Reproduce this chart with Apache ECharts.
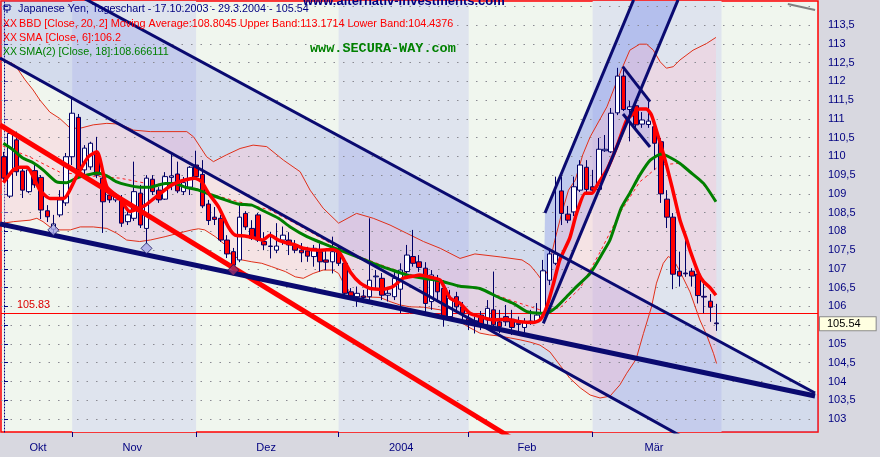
<!DOCTYPE html>
<html><head><meta charset="utf-8">
<script src="https://cdn.jsdelivr.net/npm/echarts@6.0.0/dist/echarts.min.js"></script>
<style>html,body{margin:0;padding:0;background:#d8d8e0}#c{width:880px;height:457px}</style>
</head><body><div id="c"></div><script>
// ---- daily candles 17.10.2003 .. 29.3.2004 (index 0..115) ----
const opens = [109.99,108.94,110.44,109.61,109.06,109.62,109.44,108.55,108.06,108.44,
108.76,109.99,111.04,109.64,109.72,110.08,109.42,108.97,108.84,108.84,
108.26,108.35,109.02,108.08,109.39,109.10,108.86,109.44,109.53,109.06,
109.18,109.77,109.52,108.73,108.38,108.35,107.77,107.46,107.24,108.48,
108.08,108.44,107.73,107.61,107.50,107.77,107.77,107.64,107.50,107.48,
107.33,107.46,107.24,107.19,107.55,107.15,106.39,106.26,106.28,106.26,
106.79,106.75,106.30,106.26,106.46,106.93,107.33,107.19,107.02,106.13,
106.70,106.48,105.73,106.26,105.99,105.68,105.57,105.77,105.64,105.91,
105.59,105.73,105.66,105.52,105.44,105.57,105.59,105.82,106.70,107.15,
109.08,108.46,108.52,109.10,109.71,109.19,109.12,110.15,110.12,111.16,
112.14,111.25,111.35,110.86,110.85,110.79,110.39,108.86,108.38,106.94,
106.89,106.94,106.86,106.27,106.14,105.56];
const closes = [109.42,110.61,109.59,109.10,109.64,109.24,108.57,108.39,108.20,108.84,
109.99,111.15,109.64,110.22,110.35,109.50,108.79,108.84,108.97,108.22,
108.44,109.06,108.17,109.42,109.06,108.84,109.46,109.48,109.08,109.30,
109.71,109.46,108.68,108.29,108.32,107.77,107.40,107.10,108.38,108.12,
107.82,107.77,107.64,107.60,107.61,107.90,107.64,107.50,107.43,107.34,
107.55,107.19,107.18,107.46,107.15,106.35,106.28,106.35,106.24,106.70,
106.81,106.30,106.35,106.75,106.97,107.37,107.15,107.04,106.08,106.84,
106.39,105.73,106.22,105.99,105.82,105.62,105.62,105.51,105.95,105.51,
105.46,105.59,105.44,105.55,105.57,105.61,105.77,106.95,107.40,107.40,
108.48,108.30,109.19,109.77,109.12,109.10,110.19,110.19,111.15,112.14,
111.25,111.32,110.84,110.97,110.94,110.35,109.00,108.38,106.86,106.81,
106.87,106.81,106.29,106.25,105.98,105.54];
const lows = [109.32,108.89,109.48,108.89,109.02,109.16,108.33,108.25,107.96,108.38,
108.68,109.77,109.56,109.50,109.64,109.42,107.96,108.76,108.78,108.12,
108.17,108.28,108.09,107.66,108.97,108.76,108.84,109.10,109.02,108.97,
108.97,109.42,108.62,108.17,108.17,107.72,107.29,106.97,107.18,108.04,
107.77,107.72,107.50,107.28,107.42,107.64,107.37,107.42,107.18,107.19,
107.06,106.93,106.97,106.88,107.08,106.28,106.17,105.99,106.09,106.17,
106.44,106.17,106.13,106.17,105.82,106.88,107.06,106.92,105.85,105.91,
106.12,105.46,105.64,105.83,105.56,105.37,105.28,105.37,105.51,105.37,
105.29,105.48,105.24,105.28,105.24,105.51,105.56,105.69,106.57,107.10,
108.17,108.22,108.41,109.05,109.02,109.02,109.02,110.12,110.09,111.10,
111.21,110.40,110.70,110.76,110.76,109.64,108.76,108.09,106.46,106.53,
106.79,106.53,106.08,105.82,105.59,105.35];
const highs = [110.12,110.66,110.66,109.69,109.72,109.77,109.50,108.70,108.44,109.10,
110.09,111.58,111.13,110.30,110.39,110.52,109.50,109.10,109.02,108.97,
108.57,109.86,109.24,109.50,109.50,109.18,109.58,110.08,109.86,109.45,
109.74,110.15,109.90,108.84,108.65,108.44,107.90,107.56,108.70,108.54,
108.30,108.49,107.98,107.99,108.22,108.13,107.98,107.77,107.69,107.59,
107.64,107.68,107.50,107.86,107.64,107.29,106.49,106.53,106.44,108.35,
106.97,106.89,106.52,106.97,107.15,107.64,108.04,107.37,107.18,106.97,
106.84,106.70,106.44,106.39,106.12,105.88,105.73,105.88,106.17,106.93,
105.91,106.04,105.91,105.73,105.69,105.91,106.09,107.24,107.55,109.46,
109.46,108.68,109.46,109.90,109.90,109.64,110.49,110.57,111.29,112.36,
112.30,111.48,111.50,111.18,111.45,110.94,110.49,109.10,108.49,107.46,
107.77,107.02,107.02,106.62,106.33,106.07];

// ---- indicator lines: [day index, value] ----
const sma6Pts = [[-0.1,109.30],[1.5,109.64],[2.6,109.71],[3.7,109.71],[5.8,109.10],[7.4,108.88],[9.6,108.88],[11.7,109.46],[13.6,109.99],[15.0,110.12],[16.6,109.19],[18.7,108.88],[20.3,108.53],[22.8,108.70],[24.9,108.97],[27.1,109.24],[29.2,109.37],[30.8,109.42],[31.9,109.32],[33.0,109.02],[34.6,108.66],[36.2,108.12],[37.3,107.90],[38.9,107.88],[40.5,107.82],[41.8,107.77],[42.9,107.90],[44.3,107.77],[45.9,107.68],[47.0,107.64],[48.3,107.55],[51.0,107.50],[53.1,107.52],[54.2,107.42],[56.0,106.89],[57.5,106.62],[59.1,106.48],[61.2,106.46],[62.8,106.53],[64.4,106.75],[66.1,106.81],[67.1,106.84],[68.8,106.78],[70.4,106.70],[72.0,106.22],[73.6,106.08],[75.2,105.82],[76.8,105.73],[79.0,105.64],[81.1,105.66],[83.3,105.59],[85.4,105.57],[86.5,105.64],[87.6,105.99],[88.7,106.62],[89.7,107.24],[91.3,107.82],[92.4,108.48],[93.8,109.02],[94.9,109.02],[95.9,109.28],[97.3,109.64],[98.9,110.26],[100.5,110.97],[101.3,111.10],[102.6,111.26],[103.7,111.26],[104.5,111.10],[105.6,110.52],[106.7,109.90],[107.8,109.19],[109.1,108.30],[110.2,107.77],[110.7,107.50],[112.1,106.88],[112.9,106.66],[113.9,106.51],[114.9,106.30]];
const sma18Pts = [[-0.1,110.35],[1.5,110.17],[3.1,109.95],[4.7,109.83],[6.3,109.64],[8.5,109.32],[10.1,109.30],[11.7,109.42],[13.3,109.50],[15.0,109.56],[16.6,109.48],[18.2,109.32],[19.8,109.24],[21.9,109.18],[23.6,109.18],[26.0,109.28],[27.6,109.28],[29.2,109.18],[31.4,109.10],[33.5,108.97],[35.7,108.84],[37.8,108.73],[40.0,108.70],[41.6,108.57],[44.3,108.35],[46.2,108.12],[48.9,107.86],[51.5,107.68],[54.2,107.50],[56.9,107.33],[59.6,107.15],[62.3,106.99],[65.0,106.84],[67.7,106.75],[70.4,106.68],[73.6,106.54],[76.8,106.48],[80.1,106.22],[82.2,106.08],[84.4,105.86],[86.5,105.82],[87.6,105.82],[89.2,105.99],[90.8,106.26],[92.4,106.53],[94.6,106.88],[96.7,107.45],[97.8,107.77],[99.6,108.62],[101.0,109.02],[102.6,109.50],[104.3,109.90],[106.1,110.06],[107.5,109.97],[109.1,109.81],[110.7,109.59],[112.9,109.28],[114.9,108.79]];
const bbUpperPts = [[0.2,112.57],[1.8,112.43],[3.4,112.04],[4.7,111.77],[5.8,111.50],[7.4,111.18],[9.0,111.01],[10.7,110.75],[12.3,110.75],[14.4,110.84],[16.6,110.88],[18.7,110.86],[20.9,110.70],[23.6,110.66],[26.3,110.66],[29.5,110.66],[30.6,110.52],[32.7,109.99],[33.8,109.86],[35.9,110.04],[38.1,110.21],[40.2,110.30],[42.4,110.26],[45.1,109.90],[47.8,109.59],[49.4,109.10],[51.5,108.62],[54.0,108.22],[56.9,108.48],[59.6,108.35],[62.3,108.17],[65.0,107.95],[67.7,107.73],[70.4,107.55],[73.6,107.28],[76.0,107.40],[80.1,107.32],[83.6,107.24],[84.9,107.10],[86.0,106.88],[86.8,106.70],[87.8,106.97],[88.9,107.77],[90.0,108.48],[91.1,109.10],[92.2,109.37],[93.4,110.04],[94.6,110.52],[97.3,111.32],[99.4,112.21],[101.0,112.83],[102.6,112.99],[103.7,112.99],[104.8,112.83],[105.9,112.52],[106.9,112.35],[108.0,112.39],[109.1,112.57],[111.2,112.83],[113.4,113.01],[114.9,113.17]];
const bbLowerPts = [[-0.1,108.22],[1.5,108.26],[4.2,108.30],[5.3,108.35],[6.3,108.26],[7.4,108.12],[9.0,108.04],[10.7,108.04],[12.3,108.12],[14.4,108.12],[16.6,108.08],[18.2,107.95],[19.8,107.77],[21.9,107.73],[23.6,107.77],[26.0,107.86],[28.1,107.95],[30.3,108.04],[31.4,108.07],[32.4,108.04],[34.1,107.86],[35.7,107.64],[36.7,107.37],[38.4,107.24],[40.0,107.19],[41.6,107.15],[43.2,107.06],[45.4,106.93],[47.0,106.79],[48.3,106.75],[49.9,106.88],[51.5,106.97],[53.1,106.97],[54.0,106.88],[54.8,106.62],[55.8,106.39],[57.5,106.26],[60.7,106.24],[62.3,106.13],[63.9,106.04],[65.5,105.99],[67.7,105.98],[70.4,105.91],[72.0,105.77],[73.6,105.59],[75.2,105.43],[76.8,105.29],[78.4,105.24],[80.1,105.21],[81.7,105.16],[83.3,105.11],[84.9,105.05],[86.5,104.97],[88.1,104.79],[89.7,104.44],[91.3,104.09],[93.0,103.83],[94.6,103.64],[96.2,103.56],[97.8,103.61],[99.4,103.91],[100.5,104.22],[102.0,104.59],[103.2,105.28],[104.5,105.99],[105.3,106.62],[106.4,107.15],[107.2,107.33],[108.0,107.26],[109.1,106.93],[110.7,106.39],[112.3,105.64],[113.4,105.24],[114.5,104.75],[115.0,104.48]];
const bbMidPts = [[-0.2,110.28],[4.2,109.98],[9.0,109.58],[13.9,109.48],[18.7,109.42],[23.6,109.26],[28.4,109.26],[33.2,109.00],[38.1,108.78],[42.9,108.57],[47.8,108.14],[52.6,107.69],[57.5,107.32],[62.3,107.02],[67.1,106.78],[72.0,106.60],[76.8,106.46],[81.7,106.17],[86.5,105.91],[89.7,105.96],[93.0,106.49],[96.2,107.45],[99.4,108.49],[102.6,109.32],[105.9,109.77],[109.1,109.82],[112.3,109.37],[114.9,108.81]];

// ---- drawn trend lines / channels: [day index, value] ----
const lineA = [[-0.646,108.197],[130.89,103.613]];
const lineB = [[-0.646,112.622],[110.72,102.41]];
const lineC = [[12.27,114.27],[130.89,103.693]];
const redTrend = [[-0.646,110.836],[81.66,102.52]];
const rallyL1 = [[87.31,108.49],[101.61,114.17]];
const rallyL2 = [[87.04,105.55],[108.78,114.17]];
const flagU = [[99.85,112.39],[104.26,111.46]];
const flagL = [[99.90,111.13],[104.26,110.25]];
const greyLine = [[126.5,114.06],[130.9,113.90]];
const channelPoly = [[-0.484,114.141],[13.69,114.141],[131.37,103.647],[131.37,102.654],[108.12,102.654],[-0.484,112.607]];
const rallyPoly = [[87.31,108.49],[101.55,114.141],[108.72,114.141],[87.04,105.55]];
const flagPoly = [[99.85,112.39],[104.26,111.46],[104.26,110.25],[99.90,111.13]];
const markerPts = [[7.96,108.04],[23.0,107.55],[37.0,106.97]];
const hLevel = 105.83;
const lastClose = 105.54;

// ---- axes ----
const monthLabels = ['Okt','Nov','Dez','2004','Feb','Mär'];
const monthLabelPos = [5.5,20.7,42.3,64.1,84.4,104.9];
const monthTicks = [11,31,54,75,95];
const monthBands = [[11,31],[54,75],[95,115.8]];
const yLabelValues = [103,103.5,104,104.5,105,105.5,106,106.5,107,107.5,108,108.5,109,109.5,110,110.5,111,111.5,112,112.5,113,113.5];
const yTickValues = [103,103.5,104,104.5,105,105.5,106,106.5,107,107.5,108,108.5,109,109.5,110,110.5,111,111.5,112,112.5,113,113.5,114];
const X_MIN = -0.484, X_MAX = 131.37, Y_MIN = 102.654, Y_MAX = 114.141;

const NAVY = '#000080';
const FONT = '"Liberation Sans", Arial, sans-serif';

const candleData = opens.map((o, i) => [i, o, closes[i], lows[i], highs[i]]);
const bbPoly = bbUpperPts.concat(bbLowerPts.slice().reverse());

function polySeries(pts, fill, z) {
  return { type: 'custom', coordinateSystem: 'cartesian2d', clip: true, silent: true, z: z,
    data: [[0, 105]],
    renderItem: function (params, api) {
      return { type: 'polygon', shape: { points: pts.map(p => api.coord(p)) }, style: { fill: fill } };
    } };
}
function lineSeries(data, color, width, z, extra) {
  return Object.assign({ type: 'line', data: data, symbol: 'none', silent: true, z: z,
    lineStyle: { color: color, width: width } }, extra || {});
}

const chart = echarts.init(document.getElementById('c'));
const option = {
  animation: false,
  backgroundColor: '#d8d8e0',
  grid: { left: 1, right: 62, top: 1, bottom: 25, show: true, backgroundColor: '#f0f6ee', borderColor: '#ff0000', borderWidth: 1.5 },
  xAxis: {
    type: 'value', min: X_MIN, max: X_MAX,
    splitLine: { show: false }, axisLine: { show: false },
    axisTick: { show: true, customValues: monthTicks, length: 5, lineStyle: { color: NAVY } },
    axisLabel: { customValues: monthLabelPos, color: NAVY, fontSize: 11, fontFamily: FONT, margin: 10,
      formatter: function (v) { let best = 0; monthLabelPos.forEach((p, j) => { if (Math.abs(p - v) < Math.abs(monthLabelPos[best] - v)) best = j; }); return monthLabels[best]; } }
  },
  yAxis: [{
    type: 'value', position: 'right', min: Y_MIN, max: Y_MAX, offset: 4, z: 1,
    splitLine: { show: false },
    axisLine: { show: true, lineStyle: { color: NAVY, type: [1, 2] } },
    axisTick: { show: true, customValues: yTickValues, length: 4, lineStyle: { color: NAVY } },
    axisLabel: { customValues: yLabelValues, color: NAVY, fontSize: 11, fontFamily: FONT, margin: 6,
      formatter: v => String(v).replace('.', ',') }
  }, {
    type: 'value', position: 'right', min: Y_MIN, max: Y_MAX, offset: 4, z: 5,
    splitLine: { show: false }, axisLine: { show: false }, axisTick: { show: false },
    axisLabel: { customValues: [lastClose], color: '#000000', fontSize: 11, fontFamily: FONT, margin: -2,
      backgroundColor: '#ffffe1', borderColor: '#8a8a8a', borderWidth: 1, padding: [1, 15, 1, 7],
      formatter: () => lastClose.toFixed(2) }
  }],
  series: [
    { type: 'line', data: [], z: 1, silent: true,
      markArea: { silent: true, itemStyle: { color: '#dfe4ee' },
        data: monthBands.map(b => [{ xAxis: b[0] }, { xAxis: b[1] }]) } },
    polySeries(channelPoly, 'rgba(105,120,230,0.21)', 2),
    polySeries(rallyPoly, 'rgba(105,125,235,0.36)', 2),
    polySeries(flagPoly, 'rgba(80,120,240,0.32)', 2),
    polySeries(bbPoly, 'rgba(255,195,212,0.36)', 3),
    { type: 'line', data: [], z: 4, silent: true,
      markLine: { silent: true, symbol: ['none', 'none'], label: { show: false },
        lineStyle: { type: [1.5, 8], color: '#8a8a92', width: 1 },
        data: yTickValues.map(v => ({ yAxis: v })) } },
    lineSeries(bbUpperPts, '#e0301a', 1, 5),
    lineSeries(bbLowerPts, '#e0301a', 1, 5),
    lineSeries(bbMidPts, '#ff2020', 1, 5, { lineStyle: { color: '#ff2020', width: 1, type: [3, 3] } }),
    { type: 'candlestick', data: candleData, barWidth: 5, z: 6, silent: true,
      itemStyle: { color: '#ffffff', color0: '#ff0000', borderColor: '#000066', borderColor0: '#000066', borderWidth: 1 } },
    lineSeries(sma18Pts, '#008000', 3, 7, { smooth: 0.2 }),
    lineSeries(sma6Pts, '#ff0000', 3.5, 7, { smooth: 0.2 }),
    lineSeries(redTrend, '#ff0000', 5, 8),
    lineSeries(lineA, '#0a0a70', 5, 8),
    lineSeries(lineB, '#0a0a70', 3, 8),
    lineSeries(lineC, '#0a0a70', 3, 8),
    lineSeries(rallyL1, '#0a0a70', 3, 8),
    lineSeries(rallyL2, '#0a0a70', 3, 8),
    lineSeries(flagU, '#0a0a70', 3, 8),
    lineSeries(flagL, '#0a0a70', 3, 8),
    lineSeries(greyLine, '#808080', 2, 8),
    { type: 'line', data: [], z: 8, silent: true,
      markLine: { silent: true, symbol: ['none', 'none'], label: { show: false },
        lineStyle: { type: 'solid', color: '#ff0000', width: 1 }, data: [{ yAxis: hLevel }] } },
    { type: 'scatter', data: markerPts, symbol: 'diamond', symbolSize: 11, z: 9, silent: true,
      itemStyle: { color: function (p) { return p.dataIndex === 2 ? '#a0306a' : '#a8a8e6'; }, borderColor: '#1a1a60', borderWidth: 1 } }
  ],
  graphic: [
    { type: 'rect', shape: { x: 4, y: 5, width: 6, height: 5 }, style: { fill: 'none', stroke: NAVY, lineWidth: 1 }, z: 100 },
    { type: 'line', shape: { x1: 7, y1: 10, x2: 7, y2: 13 }, style: { stroke: NAVY, lineWidth: 1 }, z: 100 },
    { type: 'text', x: 18, y: 9.5, z: 100, style: { text: 'Japanese Yen, Tageschart - 17.10.2003 - 29.3.2004 - 105.54', fill: NAVY, font: '10.8px ' + FONT, verticalAlign: 'middle', textVerticalAlign: 'middle' } },
    { type: 'text', x: 3, y: 24, z: 100, style: { text: 'XX', fill: '#ff0000', font: '10.5px ' + FONT, verticalAlign: 'middle', textVerticalAlign: 'middle' } },
    { type: 'text', x: 19, y: 24, z: 100, style: { text: 'BBD [Close, 20, 2] Moving Average:108.8045 Upper Band:113.1714 Lower Band:104.4376', fill: '#ff0000', font: '10.8px ' + FONT, verticalAlign: 'middle', textVerticalAlign: 'middle' } },
    { type: 'text', x: 3, y: 38, z: 100, style: { text: 'XX', fill: '#ff0000', font: '10.5px ' + FONT, verticalAlign: 'middle', textVerticalAlign: 'middle' } },
    { type: 'text', x: 19, y: 38, z: 100, style: { text: 'SMA [Close, 6]:106.2', fill: '#ff0000', font: '10.8px ' + FONT, verticalAlign: 'middle', textVerticalAlign: 'middle' } },
    { type: 'text', x: 3, y: 52.5, z: 100, style: { text: 'XX', fill: '#008000', font: '10.5px ' + FONT, verticalAlign: 'middle', textVerticalAlign: 'middle' } },
    { type: 'text', x: 19, y: 52.5, z: 100, style: { text: 'SMA(2) [Close, 18]:108.666111', fill: '#008000', font: '10.8px ' + FONT, verticalAlign: 'middle', textVerticalAlign: 'middle' } },
    { type: 'text', x: 303, y: 8, z: 100, style: { text: 'www.alternativ-investments.com', fill: NAVY, font: 'bold 13px ' + FONT, verticalAlign: 'bottom', textVerticalAlign: 'bottom' } },
    { type: 'text', x: 310, y: 49, z: 100, style: { text: 'www.SECURA-WAY.com', fill: '#008000', font: 'bold 13.5px "Liberation Mono", monospace', verticalAlign: 'middle', textVerticalAlign: 'middle' } },
    { type: 'text', x: 17, y: 305, z: 100, style: { text: '105.83', fill: '#dd0000', font: '10.8px ' + FONT, verticalAlign: 'middle', textVerticalAlign: 'middle' } }
  ]
};
chart.setOption(option);
</script></body></html>
